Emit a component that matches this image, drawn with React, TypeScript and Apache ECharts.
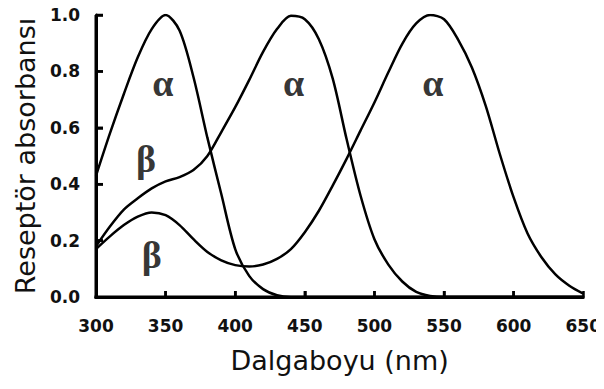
import React, { useEffect, useRef } from "react";
import * as echarts from "echarts";

const wavelengths = [300, 310, 320, 330, 340, 350, 360, 370, 380, 390, 400, 410, 420, 430, 440, 450, 460, 470, 480, 490, 500, 510, 520, 530, 540, 550, 560, 570, 580, 590, 600, 610, 620, 630, 640, 650];

const uvCone = [0.43, 0.58, 0.72, 0.85, 0.95, 1.0, 0.945, 0.78, 0.565, 0.365, 0.17, 0.075, 0.028, 0.006, 0, 0, 0, 0, 0, 0, 0, 0, 0, 0, 0, 0, 0, 0, 0, 0, 0, 0, 0, 0, 0, 0];
const blueCone = [0.18, 0.25, 0.31, 0.35, 0.385, 0.41, 0.425, 0.45, 0.5, 0.585, 0.673, 0.769, 0.869, 0.95, 0.997, 0.985, 0.915, 0.775, 0.56, 0.36, 0.205, 0.115, 0.055, 0.018, 0.004, 0, 0, 0, 0, 0, 0, 0, 0, 0, 0, 0];
const greenCone = [0.17, 0.215, 0.255, 0.285, 0.3, 0.29, 0.255, 0.205, 0.16, 0.13, 0.113, 0.108, 0.115, 0.135, 0.17, 0.23, 0.305, 0.395, 0.49, 0.59, 0.69, 0.797, 0.898, 0.97, 1.0, 0.985, 0.914, 0.814, 0.677, 0.508, 0.353, 0.225, 0.141, 0.08, 0.04, 0.012];

const xTicks = [300, 350, 400, 450, 500, 550, 600, 650];
const yTicks = [0, 0.2, 0.4, 0.6, 0.8, 1.0];
const bandLabels = [
  { name: "α", x: 348, y: 0.76 },
  { name: "α", x: 442, y: 0.76 },
  { name: "α", x: 542, y: 0.76 },
  { name: "β", x: 336, y: 0.49 },
  { name: "β", x: 340, y: 0.15 },
];

const lineSeries = (name: string, vals: number[]) => ({
  name,
  type: "line",
  data: wavelengths.map((w, i) => [w, vals[i]]),
  smooth: 0.3,
  showSymbol: false,
  symbol: "none",
  lineStyle: { color: "#000", width: 2.5 },
});

export default function App() {
  const ref = useRef<HTMLDivElement>(null);
  useEffect(() => {
    if (!ref.current) return;
    const chart = echarts.init(ref.current, null, { renderer: "svg" });
    chart.setOption({
      animation: false,
      grid: { left: 96, right: 18, top: 15, bottom: 92 },
      xAxis: {
        type: "value",
        min: 300,
        max: 650,
        interval: 50,
        name: "Dalgaboyu (nm)",
        nameLocation: "middle",
        nameGap: 50,
        nameTextStyle: { fontFamily: "DejaVu Sans", fontSize: 27, color: "#111" },
        splitLine: { show: false },
        axisLine: { show: true, lineStyle: { color: "#000", width: 3 } },
        axisTick: { show: true, inside: true, length: 6, lineStyle: { color: "#000", width: 2.5 } },
        axisLabel: { fontFamily: "DejaVu Sans", fontWeight: "bold", fontSize: 17, color: "#111", margin: 20 },
      },
      yAxis: {
        type: "value",
        min: 0,
        max: 1,
        interval: 0.2,
        name: "Reseptör absorbansı",
        nameLocation: "middle",
        nameGap: 57,
        nameTextStyle: { fontFamily: "DejaVu Sans", fontSize: 27, color: "#111" },
        splitLine: { show: false },
        axisLine: { show: true, lineStyle: { color: "#000", width: 3 } },
        axisTick: { show: true, inside: true, length: 7, lineStyle: { color: "#000", width: 2.5 } },
        axisLabel: {
          fontFamily: "DejaVu Sans",
          fontWeight: "bold",
          fontSize: 17,
          color: "#111",
          margin: 16,
          formatter: (v: number) => (yTicks.some((t) => Math.abs(t - v) < 1e-9) ? v.toFixed(1) : ""),
        },
      },
      series: [
        lineSeries("UV", uvCone),
        lineSeries("Blue", blueCone),
        lineSeries("Green", greenCone),
        {
          type: "scatter",
          data: bandLabels.map((b) => ({ name: b.name, value: [b.x, b.y] })),
          symbolSize: 1,
          itemStyle: { color: "rgba(0,0,0,0)" },
          label: {
            show: true,
            position: "inside",
            formatter: "{b}",
            fontFamily: "Liberation Serif",
            fontWeight: "bold",
            fontSize: 38,
            color: "#000",
          },
        },
      ],
    });

    // Axis frame drawn on top from the axes' own scales
    const px = (x: number, y: number) => chart.convertToPixel({ gridIndex: 0 }, [x, y]) as number[];
    const origin = px(300, 0);
    const xEnd = px(650, 0);
    const yEnd = px(300, 1);
    const stroke = { stroke: "#000", lineWidth: 3 };
    const tickStroke = { stroke: "#000", lineWidth: 2.5 };
    const frame: any[] = [
      { type: "line", z: 100, silent: true, shape: { x1: origin[0] - 1.5, y1: origin[1], x2: xEnd[0], y2: origin[1] }, style: stroke },
      { type: "line", z: 100, silent: true, shape: { x1: origin[0], y1: origin[1] + 1.5, x2: origin[0], y2: yEnd[1] }, style: stroke },
    ];
    xTicks.slice(1, -1).forEach((t) => {
      const p = px(t, 0);
      frame.push({ type: "line", z: 100, silent: true, shape: { x1: p[0], y1: p[1], x2: p[0], y2: p[1] - 6 }, style: tickStroke });
    });
    yTicks.slice(1).forEach((t) => {
      const p = px(300, t);
      frame.push({ type: "line", z: 100, silent: true, shape: { x1: p[0], y1: p[1], x2: p[0] + 7, y2: p[1] }, style: tickStroke });
    });
    chart.setOption({ graphic: frame });

    return () => chart.dispose();
  }, []);
  return <div ref={ref} style={{ width: 604, height: 389, margin: "-8px 0 0 -8px" }} />;
}
